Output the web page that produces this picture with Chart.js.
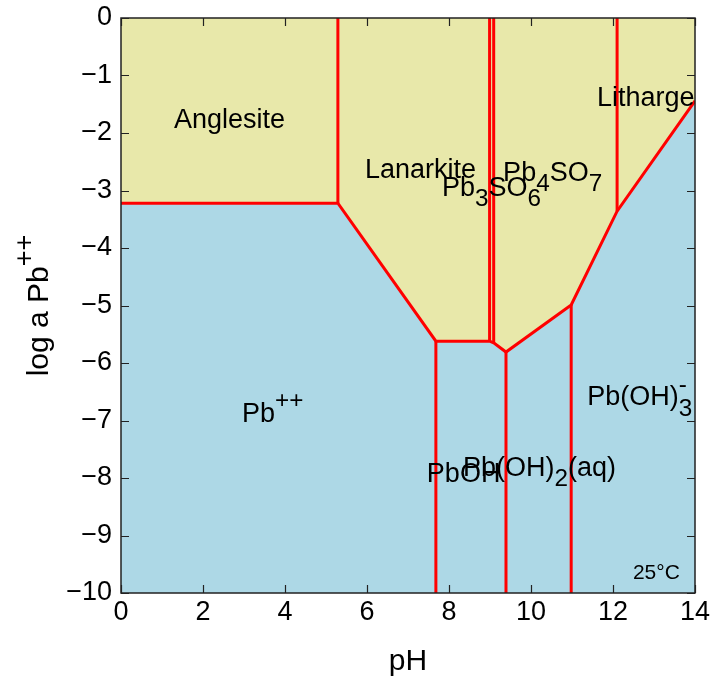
<!DOCTYPE html>
<html>
<head>
<meta charset="utf-8">
<script src="https://cdn.jsdelivr.net/npm/chart.js@4/dist/chart.umd.min.js"></script>
<style>
  html, body { margin: 0; padding: 0; background: #fff; }
  #wrap { width: 711px; height: 680px; }
</style>
</head>
<body>
<div id="wrap"><canvas id="pb-diagram"></canvas></div>
<script>
// Pb–S–O–H activity diagram: log a Pb++ against pH, 25°C
const phTicks = [0, 2, 4, 6, 8, 10, 12, 14];
const logTicks = [0, -1, -2, -3, -4, -5, -6, -7, -8, -9, -10];

// solubility boundary: aqueous fields below, solid fields above
const boundaryPH  = [0, 5.29, 7.68, 8.99, 9.09, 9.39, 10.98, 12.10, 14];
const boundaryLog = [-3.22, -3.22, -5.62, -5.62, -5.65, -5.81, -4.99, -3.36, -1.44];

// vertical field boundaries (pH, upper end, lower end)
const dividerPH     = [5.29, 8.99, 9.09, 12.10, 7.68, 9.39, 10.98];
const dividerTop    = [0, 0, 0, 0, -5.62, -5.81, -4.99];
const dividerBottom = [-3.22, -5.62, -5.65, -3.36, -10, -10, -10];

// field names; _{} is a subscript, ^{} a superscript
const fieldNames = ['Anglesite', 'Lanarkite', 'Pb_{3}SO_{6}', 'Pb_{4}SO_{7}', 'Litharge',
                    'Pb^{++}', 'PbOH', 'Pb(OH)_{2}(aq)', 'Pb(OH)_{3}^{-}'];
const fieldPH  = [1.29, 5.95, 7.83, 9.32, 11.61, 2.95, 7.46, 8.34, 11.37];
const fieldLog = [-1.74, -2.61, -2.93, -2.66, -1.37, -6.85, -7.91, -7.79, -6.57];

const FONT = '"Liberation Sans", Arial, sans-serif';
const SOLID = 'rgb(232, 232, 170)';
const AQUEOUS = 'rgb(173, 216, 230)';
const EDGE = '#ff0000';

function parseRich(str) {
  const parts = [];
  const re = /([_^])\{([^}]*)\}|([^_^]+)/g;
  let m;
  while ((m = re.exec(str))) {
    if (m[3]) parts.push({ t: m[3], kind: 'n' });
    else parts.push({ t: m[2], kind: m[1] === '_' ? 'sub' : 'sup' });
  }
  return parts;
}

// lays out the pieces; returns total width, draws when draw is true
function richText(ctx, str, x, y, size, draw) {
  const parts = parseRich(str);
  let cx = x, lastStart = x, lastKind = null;
  parts.forEach(p => {
    const fs = p.kind === 'n' ? size : size * 0.9;
    const dy = p.kind === 'sub' ? size * 0.38 : p.kind === 'sup' ? -size * 0.5 : 0;
    ctx.font = fs + 'px ' + FONT;
    let px = cx;
    if (p.kind === 'sup' && lastKind === 'sub') px = lastStart;
    const w = ctx.measureText(p.t).width;
    if (draw) ctx.fillText(p.t, px, y + dy);
    lastStart = px;
    cx = Math.max(cx, px + w);
    lastKind = p.kind;
  });
  return cx - x;
}

const diagramPlugin = {
  id: 'diagram',
  beforeDraw(chart) {
    const { ctx, chartArea: a } = chart;
    ctx.save();
    ctx.fillStyle = SOLID;
    ctx.fillRect(a.left, a.top, a.right - a.left, a.bottom - a.top);
    ctx.restore();
  },
  afterDatasetsDraw(chart) {
    const { ctx, chartArea: a, scales } = chart;
    const sx = scales.x, sy = scales.y;
    ctx.save();
    ctx.fillStyle = '#000';
    ctx.textAlign = 'left';
    ctx.textBaseline = 'alphabetic';
    fieldNames.forEach((name, i) => {
      const size = 27;
      const x = sx.getPixelForValue(fieldPH[i]);
      const y = sy.getPixelForValue(fieldLog[i]) + size * 0.358;
      richText(ctx, name, x, y, size, true);
    });
    // temperature note
    ctx.font = '21px ' + FONT;
    ctx.textAlign = 'right';
    ctx.fillText('25°C', sx.getPixelForValue(13.63), sy.getPixelForValue(-9.63) + 7.5);

    // frame and inward tick marks
    ctx.strokeStyle = '#222';
    ctx.lineWidth = 1.5;
    ctx.strokeRect(a.left, a.top, a.right - a.left, a.bottom - a.top);
    ctx.lineWidth = 1.2;
    ctx.beginPath();
    phTicks.forEach(v => {
      const x = Math.round(sx.getPixelForValue(v)) + 0.5;
      ctx.moveTo(x, a.bottom); ctx.lineTo(x, a.bottom - 8);
      ctx.moveTo(x, a.top); ctx.lineTo(x, a.top + 8);
    });
    logTicks.forEach(v => {
      const y = Math.round(sy.getPixelForValue(v)) + 0.5;
      ctx.moveTo(a.left, y); ctx.lineTo(a.left + 8, y);
      ctx.moveTo(a.right, y); ctx.lineTo(a.right - 8, y);
    });
    ctx.stroke();

    // axis titles
    ctx.fillStyle = '#000';
    ctx.textAlign = 'left';
    const tsize = 30;
    ctx.font = tsize + 'px ' + FONT;
    const pw = ctx.measureText('pH').width;
    ctx.fillText('pH', (a.left + a.right) / 2 - pw / 2, 670);
    ctx.translate(48, (a.top + a.bottom) / 2);
    ctx.rotate(-Math.PI / 2);
    const yw = richText(ctx, 'log a Pb^{++}', 0, 0, tsize, false);
    richText(ctx, 'log a Pb^{++}', -yw / 2, 0, tsize, true);
    ctx.restore();
  }
};

const datasets = [{
  data: boundaryPH.map((x, i) => ({ x, y: boundaryLog[i] })),
  showLine: true,
  borderColor: EDGE,
  borderWidth: 3,
  backgroundColor: AQUEOUS,
  fill: 'start',
  pointRadius: 0
}];
dividerPH.forEach((x, i) => {
  datasets.push({
    data: [{ x, y: dividerTop[i] }, { x, y: dividerBottom[i] }],
    showLine: true,
    borderColor: EDGE,
    borderWidth: 3,
    fill: false,
    pointRadius: 0
  });
});

const tickFont = { family: FONT, size: 27 };

new Chart(document.getElementById('pb-diagram'), {
  type: 'scatter',
  data: { datasets },
  options: {
    responsive: true,
    maintainAspectRatio: false,
    animation: false,
    layout: { padding: { top: 18, right: 16, left: 0, bottom: 0 } },
    plugins: {
      legend: { display: false },
      tooltip: { enabled: false },
      filler: { drawTime: 'beforeDatasetsDraw' }
    },
    scales: {
      x: {
        type: 'linear',
        min: 0,
        max: 14,
        grid: { display: false },
        border: { display: false },
        ticks: { stepSize: 2, color: '#000', font: tickFont, padding: -5, maxRotation: 0 },
        afterFit: s => { s.height = 87; }
      },
      y: {
        type: 'linear',
        min: -10,
        max: 0,
        grid: { display: false },
        border: { display: false },
        ticks: {
          stepSize: 1,
          color: '#000',
          font: tickFont,
          padding: 1,
          callback: v => (v < 0 ? '\u2212' + Math.abs(v) : String(v))
        },
        afterFit: s => { s.width = 121; }
      }
    }
  },
  plugins: [diagramPlugin]
});
</script>
</body>
</html>
